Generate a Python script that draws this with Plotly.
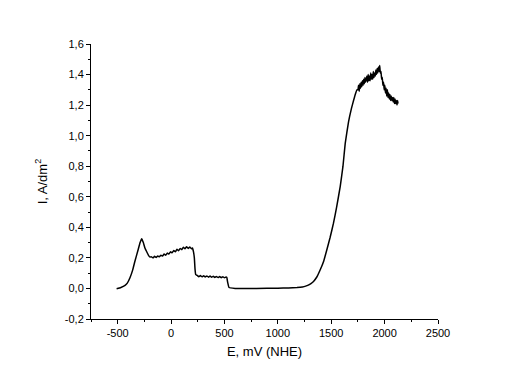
import plotly.graph_objects as go

E_mV = [-510, -470, -431, -410, -385, -360, -338, -310, -290, -275, -260, -245, -228, -210, -197,
        -185, -170, -155, -140, -125, -110, -95, -80, -65, -50, -35, -20, -5, 10, 25, 40,
        55, 70, 85, 100, 115, 130, 145, 160, 175, 190, 200, 210, 218, 224, 231,
        245, 260, 275, 290, 305, 320, 335, 350, 365, 380, 395, 410, 425, 440, 455, 470,
        485, 500, 515, 522, 530, 543, 600, 800, 1000, 1100, 1180, 1230, 1260, 1285, 1310, 1334, 1365,
        1397, 1430, 1459, 1490, 1521, 1550, 1584, 1610, 1631, 1662, 1690, 1709, 1725, 1741,
        1750, 1756, 1762, 1768, 1774, 1780, 1786, 1792, 1798, 1804, 1810, 1816, 1822, 1828,
        1834, 1840, 1846, 1852, 1858, 1864, 1870, 1876, 1882, 1888, 1894, 1900, 1906, 1912,
        1918, 1924, 1930, 1936, 1942, 1948, 1954, 1960, 1966, 1972, 1978, 1984, 1990, 1996,
        2002, 2008, 2014, 2020, 2026, 2032, 2038, 2044, 2050, 2056, 2062, 2068, 2074, 2080,
        2086, 2092, 2098, 2104, 2110, 2116, 2122, 2125]
I_Adm2 = [-0.002, 0.006, 0.02, 0.035, 0.07, 0.12, 0.18, 0.25, 0.30, 0.325, 0.30, 0.265, 0.24, 0.215, 0.205,
          0.208, 0.200, 0.210, 0.203, 0.213, 0.207, 0.218, 0.212, 0.225, 0.218, 0.232, 0.225, 0.240, 0.233, 0.248, 0.240,
          0.256, 0.247, 0.262, 0.254, 0.270, 0.260, 0.273, 0.262, 0.272, 0.260, 0.265, 0.24, 0.20, 0.13, 0.09,
          0.085, 0.077, 0.084, 0.076, 0.083, 0.075, 0.082, 0.074, 0.081, 0.073, 0.080, 0.072, 0.079, 0.071, 0.078, 0.070,
          0.077, 0.070, 0.075, 0.072, 0.04, 0.006, 0.0, 0.0, 0.002, 0.003, 0.006, 0.010, 0.015, 0.022, 0.032, 0.046, 0.075,
          0.122, 0.18, 0.253, 0.335, 0.427, 0.53, 0.667, 0.80, 0.95, 1.09, 1.18, 1.23, 1.27, 1.30,
          1.30, 1.33, 1.29, 1.34, 1.31, 1.35, 1.32, 1.36, 1.33, 1.37, 1.34, 1.38, 1.35, 1.37,
          1.39, 1.35, 1.40, 1.36, 1.39, 1.36, 1.41, 1.37, 1.40, 1.37, 1.42, 1.38, 1.41, 1.39,
          1.43, 1.40, 1.44, 1.41, 1.45, 1.42, 1.46, 1.41, 1.42, 1.37, 1.38, 1.33, 1.35, 1.30,
          1.33, 1.28, 1.31, 1.26, 1.30, 1.25, 1.28, 1.24, 1.27, 1.23, 1.26, 1.23, 1.25, 1.22,
          1.25, 1.21, 1.24, 1.21, 1.23, 1.20, 1.23, 1.21]

y_tickvals = [-0.2, 0.0, 0.2, 0.4, 0.6, 0.8, 1.0, 1.2, 1.4, 1.6]
y_ticktext = ["-0,2", "0,0", "0,2", "0,4", "0,6", "0,8", "1,0", "1,2", "1,4", "1,6"]
x_tickvals = [-500, 0, 500, 1000, 1500, 2000, 2500]
x_ticktext = ["-500", "0", "500", "1000", "1500", "2000", "2500"]

fig = go.Figure()
fig.add_trace(go.Scatter(x=E_mV, y=I_Adm2, mode="lines",
                         line=dict(color="black", width=1.5, shape="spline", smoothing=0.3),
                         showlegend=False))

font_family = "Liberation Sans, Arial, sans-serif"
fig.update_layout(
    width=501, height=375,
    margin=dict(l=83, r=71, t=36, b=64),
    paper_bgcolor="white", plot_bgcolor="white",
    font=dict(family=font_family, color="black", size=11),
)
fig.update_xaxes(
    range=[-750, 2500], tickvals=x_tickvals, ticktext=x_ticktext,
    showgrid=False, zeroline=False,
    showline=True, linecolor="black", linewidth=1,
    ticks="outside", ticklen=4, tickcolor="black",
    minor=dict(ticks="outside", ticklen=2, dtick=250, tick0=-750, tickcolor="black"),
    title=dict(text="E, mV (NHE)", font=dict(size=13), standoff=8),
    tickfont=dict(size=11),
)
fig.update_yaxes(
    range=[-0.2, 1.6], tickvals=y_tickvals, ticktext=y_ticktext, showgrid=False, zeroline=False,
    showline=True, linecolor="black", linewidth=1,
    ticks="outside", ticklen=4, tickcolor="black",
    minor=dict(ticks="outside", ticklen=2, dtick=0.1, tick0=-0.2, tickcolor="black"),
    title=dict(text="I, A/dm<sup>2</sup>", font=dict(size=13), standoff=14),
    tickfont=dict(size=11),
)

fig.write_html("out.html")
